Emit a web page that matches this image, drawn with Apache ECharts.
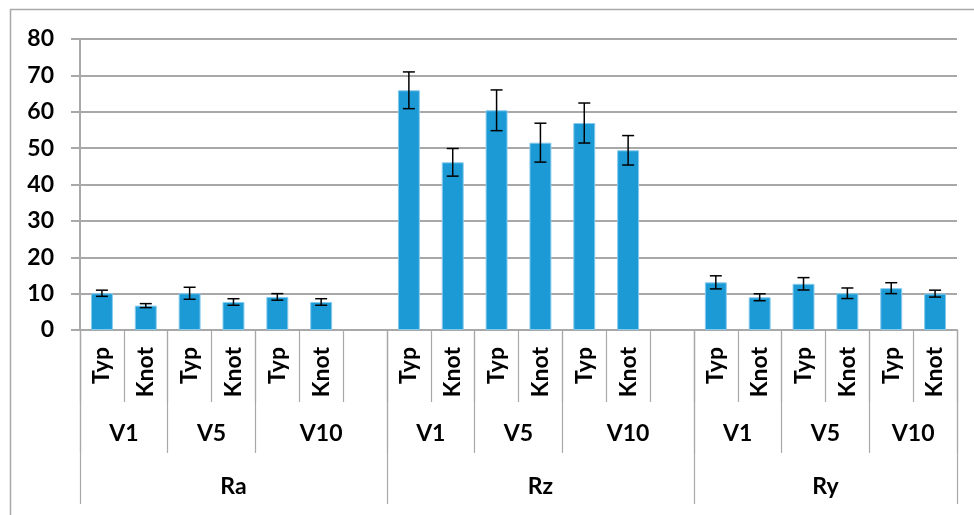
<!DOCTYPE html>
<html>
<head>
<meta charset="utf-8">
<title>Ra / Rz / Ry</title>
<script src="https://cdn.jsdelivr.net/npm/echarts@6/dist/echarts.min.js"></script>
<style>
  html, body { margin: 0; padding: 0; background: #fff; }
  #chart { width: 974px; height: 515px; }
</style>
</head>
<body>
<div id="chart"></div>
<script>
// Roughness parameters, speed levels and thread variants
const groupNames = ['Ra', 'Rz', 'Ry'];
const speedNames = ['V1', 'V5', 'V10'];
const variantNames = ['Typ', 'Knot'];

// Mean values, ordered V1 Typ, V1 Knot, V5 Typ, V5 Knot, V10 Typ, V10 Knot
const meanRa = [10.1, 6.7, 10.1, 7.7, 9.1, 7.7];
const meanRz = [65.9, 46.1, 60.4, 51.5, 56.9, 49.4];
const meanRy = [13.1, 9.0, 12.7, 10.1, 11.5, 10.0];

// Standard deviations (error bar half-lengths), same order
const errRa = [0.85, 0.55, 1.65, 0.9, 0.9, 0.9];
const errRz = [5.05, 3.8, 5.6, 5.35, 5.5, 4.05];
const errRy = [1.8, 0.95, 1.7, 1.45, 1.5, 0.95];

// Value axis range
const yMin = 0;
const yMax = 80;
const yStep = 10;

const means = [meanRa, meanRz, meanRy];
const errs = [errRa, errRz, errRy];

// Build the flat list of slots, with an empty slot between parameter groups
const slots = [];
const speedSpans = [];
const groupSpans = [];
groupNames.forEach((g, gi) => {
  const gStart = slots.length;
  speedNames.forEach((s, si) => {
    const sStart = slots.length;
    variantNames.forEach((v, vi) => {
      const k = si * variantNames.length + vi;
      slots.push({ key: g + '|' + s + '|' + v, label: v, mean: means[gi][k], err: errs[gi][k] });
    });
    speedSpans.push({ label: s, start: sStart, end: slots.length });
  });
  if (gi < groupNames.length - 1) {
    slots.push({ key: g + '|gap', label: '', mean: null, err: null });
    speedSpans[speedSpans.length - 1].end = slots.length;
  }
  groupSpans.push({ label: g, start: gStart, end: slots.length });
});

const gridColor = '#a8a8a8';
const sepColor = '#a8a8a8';
const textStyle = { color: '#000', fontWeight: 'bold', fontFamily: 'Lato', fontSize: 23 };

// Secondary category axis on half-slot points, used for the grouped label rows
function levelAxis(spans, margin, tickLen) {
  const nPts = slots.length * 2 + 1;
  const labels = new Array(nPts).fill('');
  const ticks = new Set();
  spans.forEach(sp => {
    labels[sp.start + sp.end] = sp.label;
    ticks.add(sp.start * 2);
    ticks.add(sp.end * 2);
  });
  return {
    type: 'category',
    gridIndex: 0,
    position: 'bottom',
    boundaryGap: false,
    data: labels.map((_, i) => 'p' + i),
    axisLine: { show: false },
    axisTick: {
      show: true,
      interval: (i) => ticks.has(i),
      length: tickLen,
      lineStyle: { color: sepColor, width: 1.2 }
    },
    axisLabel: Object.assign({
      interval: 0,
      margin: margin,
      formatter: (v) => labels[parseInt(v.slice(1), 10)]
    }, textStyle),
    splitLine: { show: false }
  };
}

const chart = echarts.init(document.getElementById('chart'), null, { renderer: 'canvas' });

const option = {
  animation: false,
  backgroundColor: '#fff',
  grid: { left: 80, right: 17, top: 39, bottom: 185, containLabel: false },
  graphic: [{
    type: 'rect',
    silent: true,
    shape: { x: 10.5, y: 9.5, width: 1200, height: 800 },
    style: { fill: 'none', stroke: gridColor, lineWidth: 1.5 }
  }],
  xAxis: [
    {
      type: 'category',
      position: 'bottom',
      data: slots.map(s => s.key),
      axisLine: { show: true, lineStyle: { color: gridColor, width: 2 } },
      axisTick: { show: true, interval: 0, length: 72, lineStyle: { color: sepColor, width: 1.2 } },
      axisLabel: Object.assign({
        interval: 0,
        rotate: 90,
        margin: 17,
        formatter: (v) => v.split('|').length === 3 ? v.split('|')[2] : ''
      }, textStyle),
      splitLine: { show: false }
    },
    levelAxis(speedSpans, 92, 123),
    levelAxis(groupSpans, 145, 174)
  ],
  yAxis: {
    type: 'value',
    min: yMin,
    max: yMax,
    interval: yStep,
    axisLine: { show: true, lineStyle: { color: gridColor, width: 2 } },
    axisTick: { show: true, length: 9, lineStyle: { color: gridColor, width: 2 } },
    axisLabel: Object.assign({ margin: 26 }, textStyle),
    splitLine: { show: true, lineStyle: { color: gridColor, width: 2 } }
  },
  series: [
    {
      type: 'bar',
      xAxisIndex: 0,
      barWidth: '50%',
      data: slots.map(s => s.mean === null ? '-' : s.mean),
      itemStyle: { color: '#1b9ad6', borderColor: '#86caec', borderWidth: 1 }
    },
    {
      type: 'custom',
      xAxisIndex: 0,
      z: 5,
      data: slots.map((s, i) => s.mean === null ? null : [i, s.mean, s.err]).filter(d => d !== null),
      encode: { x: 0, y: 1 },
      renderItem: (params, api) => {
        const x = api.value(0);
        const m = api.value(1);
        const e = api.value(2);
        const hi = api.coord([x, m + e]);
        const lo = api.coord([x, m - e]);
        const cap = 6;
        const style = { stroke: '#000', lineWidth: 1.5 };
        return {
          type: 'group',
          children: [
            { type: 'line', shape: { x1: hi[0], y1: hi[1], x2: lo[0], y2: lo[1] }, style },
            { type: 'line', shape: { x1: hi[0] - cap, y1: hi[1], x2: hi[0] + cap, y2: hi[1] }, style },
            { type: 'line', shape: { x1: lo[0] - cap, y1: lo[1], x2: lo[0] + cap, y2: lo[1] }, style }
          ]
        };
      }
    }
  ]
};

chart.setOption(option);
</script>
</body>
</html>
